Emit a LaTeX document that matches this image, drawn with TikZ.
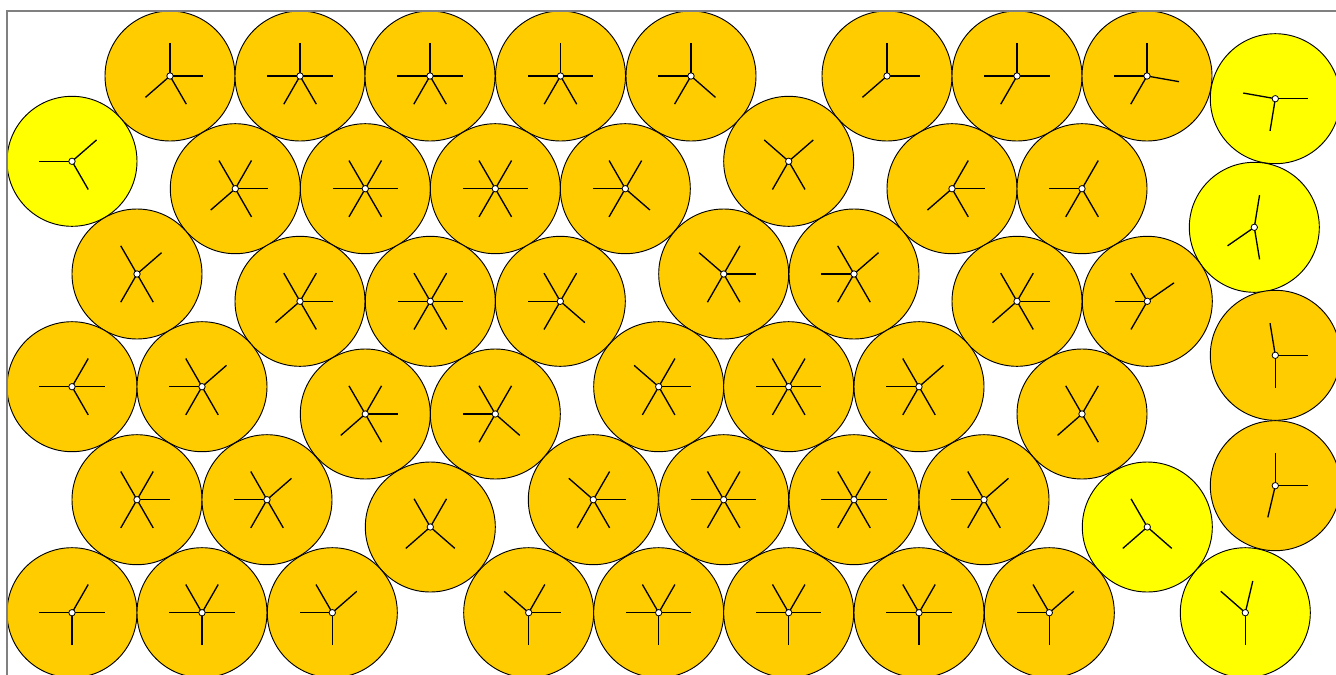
\documentclass[tikz,border=0pt]{standalone}
\usetikzlibrary{calc}
\definecolor{ball}{RGB}{255,204,0}
\definecolor{rattler}{RGB}{255,255,0}
\definecolor{wallgray}{RGB}{128,128,128}
\tikzset{
  grain/.style={circle, draw=black, line width=0.7pt, fill=ball, minimum size=97.5pt, inner sep=0pt, outer sep=0pt},
  yellowgrain/.style={grain, fill=rattler},
  spoke/.style={draw=black, line width=1pt},
  hub/.style={fill=white, draw=black, line width=0.6pt},
  wall/.style={draw=wallgray, line width=1.2pt}
}
\newcommand\bond[2]{\draw[spoke] (#1.center) -- ($(#1.center)!24.4pt!(#2.center)$) (#2.center) -- ($(#2.center)!24.4pt!(#1.center)$);}
\begin{document}
\begin{tikzpicture}[x=0.75pt,y=-0.75pt]
\useasboundingbox (0,0) rectangle (1336,675);
\clip (0,0) rectangle (1336,675);
% row A
\node[grain] (a1) at (170,76) {};
\node[grain] (a2) at (300,76) {};
\node[grain] (a3) at (430,76) {};
\node[grain] (a4) at (560.5,76) {};
\node[grain] (a5) at (691,76) {};
\node[grain] (a6) at (887,76) {};
\node[grain] (a7) at (1017,76) {};
\node[grain] (a8) at (1147,76) {};
\node[yellowgrain] (y1) at (1275.3,98.7) {};
% row B
\node[yellowgrain] (y2) at (72,161.3) {};
\node[grain] (b1) at (235.3,188.7) {};
\node[grain] (b2) at (365.3,188.7) {};
\node[grain] (b3) at (495.3,188.7) {};
\node[grain] (b4) at (625.3,188.7) {};
\node[grain] (b5) at (788.7,161.3) {};
\node[grain] (b6) at (952,188.7) {};
\node[grain] (b7) at (1082,188.7) {};
\node[yellowgrain] (y3) at (1254.3,227.3) {};
% row C
\node[grain] (c1) at (137,274) {};
\node[grain] (c2) at (300,301.3) {};
\node[grain] (c3) at (430.3,301.3) {};
\node[grain] (c4) at (560.3,301.3) {};
\node[grain] (c5) at (723.7,274) {};
\node[grain] (c6) at (854,274) {};
\node[grain] (c7) at (1017,301.3) {};
\node[grain] (c8) at (1147.3,301.3) {};
\node[grain] (c9) at (1275.3,355.3) {};
% row D
\node[grain] (d1) at (72,386.7) {};
\node[grain] (d2) at (202,386.7) {};
\node[grain] (d3) at (365.3,414) {};
\node[grain] (d4) at (495.3,414) {};
\node[grain] (d5) at (658.7,386.7) {};
\node[grain] (d6) at (788.7,386.7) {};
\node[grain] (d7) at (919,386.7) {};
\node[grain] (d8) at (1082,414) {};
\node[grain] (d9) at (1275.3,485.7) {};
% row E
\node[grain] (e1) at (137,499.7) {};
\node[grain] (e2) at (267,499.7) {};
\node[grain] (e3) at (430.3,527) {};
\node[grain] (e4) at (593.3,499.7) {};
\node[grain] (e5) at (723.7,499.7) {};
\node[grain] (e6) at (854,499.7) {};
\node[grain] (e7) at (984,499.7) {};
\node[yellowgrain] (y4) at (1147.3,527) {};
% row F
\node[grain] (f1) at (72,612.7) {};
\node[grain] (f2) at (202,612.7) {};
\node[grain] (f3) at (332.3,612.7) {};
\node[grain] (f4) at (528.7,612.7) {};
\node[grain] (f5) at (658.7,612.7) {};
\node[grain] (f6) at (788.7,612.7) {};
\node[grain] (f7) at (919,612.7) {};
\node[grain] (f8) at (1049.3,612.7) {};
\node[yellowgrain] (y5) at (1245.3,612.7) {};
% contacts between grains
\foreach \p/\q in {a1/a2,a1/b1,a1/y2,a2/a3,a2/b1,a2/b2,a3/a4,a3/b2,a3/b3,a4/a5,a4/b3,a4/b4,
  a5/b4,a5/b5,a6/a7,a6/b5,a7/a8,a7/b6,a8/y1,a8/b7,y1/y3,y2/c1,
  b1/b2,b1/c1,b1/c2,b2/b3,b2/c2,b2/c3,b3/b4,b3/c3,b3/c4,b4/c4,b4/c5,b5/c5,b5/c6,
  b6/b7,b6/c6,b6/c7,b7/c7,b7/c8,y3/c8,y3/c9,
  c1/d1,c1/d2,c2/c3,c2/d2,c2/d3,c3/c4,c3/d3,c3/d4,c4/d4,c4/d5,c5/c6,c5/d5,c5/d6,
  c6/d6,c6/d7,c7/c8,c7/d7,c7/d8,c8/d8,c9/d9,
  d1/d2,d1/e1,d2/e1,d2/e2,d3/d4,d3/e2,d3/e3,d4/e3,d4/e4,d5/d6,d5/e4,d5/e5,
  d6/d7,d6/e5,d6/e6,d7/e6,d7/e7,d8/e7,d8/y4,d9/y5,
  e1/e2,e1/f1,e1/f2,e2/f2,e2/f3,e3/f3,e3/f4,e4/e5,e4/f4,e4/f5,e5/e6,e5/f5,e5/f6,
  e6/e7,e6/f6,e6/f7,e7/f7,e7/f8,y4/f8,y4/y5,
  f1/f2,f2/f3,f4/f5,f5/f6,f6/f7,f7/f8}
  {\bond{\p}{\q}}
% contacts with the walls
\foreach \n in {a1,a2,a3,a4,a5,a6,a7,a8}
  \draw[spoke] (\n.center) -- ++(90:24.4pt);
\foreach \n in {y1,c9,d9}
  \draw[spoke] (\n.center) -- ++(0:24.4pt);
\foreach \n in {y2,d1,f1}
  \draw[spoke] (\n.center) -- ++(180:24.4pt);
\foreach \n in {f1,f2,f3,f4,f5,f6,f7,f8,y5}
  \draw[spoke] (\n.center) -- ++(270:24.4pt);
% centre markers
\foreach \n in {a1,a2,a3,a4,a5,a6,a7,a8,y1,y2,b1,b2,b3,b4,b5,b6,b7,y3,
  c1,c2,c3,c4,c5,c6,c7,c8,c9,d1,d2,d3,d4,d5,d6,d7,d8,d9,
  e1,e2,e3,e4,e5,e6,e7,y4,f1,f2,f3,f4,f5,f6,f7,f8,y5}
  \draw[hub] (\n.center) circle (2.4pt);
% container
\draw[wall] (7,11) rectangle (1340.3,677.7);
\end{tikzpicture}
\end{document}
